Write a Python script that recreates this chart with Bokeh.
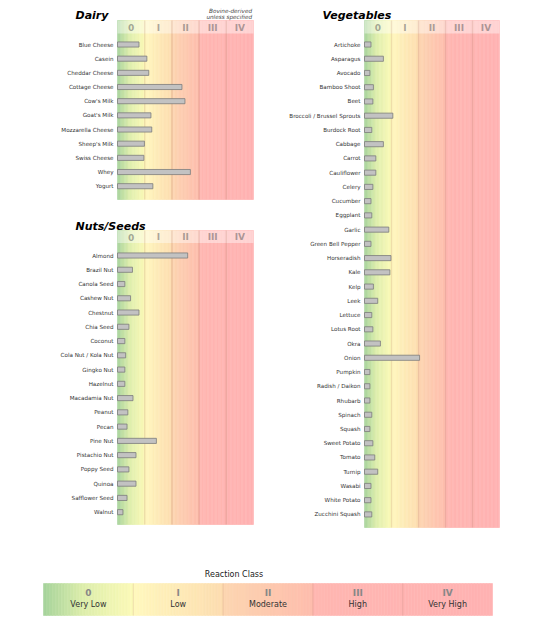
from bokeh.plotting import figure
from bokeh.models import Range1d, ColumnDataSource
from bokeh.layouts import column, row
from bokeh.embed import file_html
from bokeh.resources import INLINE
from bokeh.core.properties import value

# ---------------- data ----------------
class_numerals = ["0", "I", "II", "III", "IV"]
class_names = ["Very Low", "Low", "Moderate", "High", "Very High"]

dairy_items = ["Blue Cheese", "Casein", "Cheddar Cheese", "Cottage Cheese", "Cow's Milk",
               "Goat's Milk", "Mozzarella Cheese", "Sheep's Milk", "Swiss Cheese", "Whey", "Yogurt"]
dairy_values = [0.79, 1.08, 1.15, 2.37, 2.48, 1.23, 1.26, 0.99, 0.97, 2.68, 1.30]

nuts_items = ["Almond", "Brazil Nut", "Canola Seed", "Cashew Nut", "Chestnut", "Chia Seed",
              "Coconut", "Cola Nut / Kola Nut", "Gingko Nut", "Hazelnut", "Macadamia Nut",
              "Peanut", "Pecan", "Pine Nut", "Pistachio Nut", "Poppy Seed", "Quinoa",
              "Safflower Seed", "Walnut"]
nuts_values = [2.58, 0.55, 0.27, 0.48, 0.79, 0.42, 0.27, 0.30, 0.27, 0.27, 0.57,
               0.38, 0.35, 1.43, 0.68, 0.42, 0.68, 0.35, 0.20]

veg_items = ["Artichoke", "Asparagus", "Avocado", "Bamboo Shoot", "Beet",
             "Broccoli / Brussel Sprouts", "Burdock Root", "Cabbage", "Carrot", "Cauliflower",
             "Celery", "Cucumber", "Eggplant", "Garlic", "Green Bell Pepper", "Horseradish",
             "Kale", "Kelp", "Leek", "Lettuce", "Lotus Root", "Okra", "Onion", "Pumpkin",
             "Radish / Daikon", "Rhubarb", "Spinach", "Squash", "Sweet Potato", "Tomato",
             "Turnip", "Wasabi", "White Potato", "Zucchini Squash"]
veg_values = [0.24, 0.70, 0.20, 0.33, 0.31, 1.05, 0.27, 0.70, 0.42, 0.42,
              0.31, 0.24, 0.27, 0.90, 0.24, 0.98, 0.94, 0.33, 0.49, 0.27,
              0.31, 0.59, 2.04, 0.20, 0.20, 0.20, 0.27, 0.20, 0.31, 0.38,
              0.49, 0.24, 0.24, 0.27]

FONT = value("DejaVu Sans")

# gradient stops per class (position within class, rgb)
grad_stops = {
    0: [(0.0, (166, 211, 156)), (0.45, (222, 238, 172)), (1.0, (252, 250, 184))],
    1: [(0.0, (255, 248, 190)), (1.0, (253, 221, 176))],
    2: [(0.0, (253, 214, 177)), (1.0, (254, 189, 173))],
    3: [(0.0, (255, 183, 177)), (1.0, (255, 180, 178))],
    4: [(0.0, (255, 180, 178)), (1.0, (255, 178, 178))],
}


def interp(c, t):
    stops = grad_stops[c]
    for (t0, c0), (t1, c1) in zip(stops[:-1], stops[1:]):
        if t0 <= t <= t1:
            f = (t - t0) / (t1 - t0)
            rgb = [round(a + (b - a) * f) for a, b in zip(c0, c1)]
            return "#%02x%02x%02x" % tuple(rgb)
    return "#%02x%02x%02x" % stops[-1][1]


def gradient_source(n_strips=20):
    left, right, colors = [], [], []
    for c in range(5):
        for k in range(n_strips):
            left.append(c + k / n_strips)
            right.append(c + (k + 1) / n_strips)
            colors.append(interp(c, (k + 0.5) / n_strips))
    return ColumnDataSource(dict(left=left, right=right, color=colors))


def base_figure(W, H, xr, yr):
    p = figure(width=W, height=H, x_range=Range1d(*xr), y_range=Range1d(*yr),
               output_backend="svg", toolbar_location=None, tools="")
    p.min_border = 0
    p.min_border_left = 0
    p.min_border_right = 0
    p.min_border_top = 0
    p.min_border_bottom = 0
    p.outline_line_color = None
    p.grid.visible = False
    p.axis.visible = False
    p.background_fill_color = "white"
    p.border_fill_color = "white"
    return p


def make_panel(items, vals, box, px0, px1, row0, sp, head_top, head_bot, plot_bot,
               title, title_base, note=None):
    """box = (X0, Y0, W, H) of the figure on the page, all geometry in page px."""
    X0, Y0, W, H = box
    n = len(items)
    cw = (px1 - px0) / 5.0
    fx = lambda X: (X - px0) / cw
    fy = lambda Y: (Y - row0) / sp
    p = base_figure(W, H, (fx(X0), fx(X0 + W)), (fy(Y0 + H), fy(Y0)))

    y_top, y_bot = fy(head_top), fy(plot_bot)
    src = gradient_source()
    p.quad(left="left", right="right", bottom=y_bot, top=y_top, fill_color="color",
           line_color="color", line_width=0.6, source=src)
    # lighter header band
    p.quad(left=0, right=5, bottom=fy(head_bot), top=y_top, fill_color="white",
           fill_alpha=0.42, line_color=None)
    # class separators
    p.segment(x0=[1, 2, 3, 4], y0=y_bot, x1=[1, 2, 3, 4], y1=y_top,
              line_color="#9a5a3a", line_alpha=0.16, line_width=1.5)
    # header numerals
    p.text(x=[i + 0.5 for i in range(5)], y=fy((head_top + head_bot) / 2 + 0.5),
           text=class_numerals, text_font=FONT, text_font_size="9px",
           text_font_style="bold", text_color="#555555", text_alpha=0.5,
           text_align="center", text_baseline="middle")
    # bars
    p.hbar(y=list(range(n)), left=0, right=vals, height=0.36,
           fill_color="#c2c2c2", line_color="#7c7c7c", line_width=0.8)
    # category labels
    p.text(x=fx(px0 - 4), y=list(range(n)), text=items, text_font=FONT,
           text_font_size="5.6px", text_color="#333333", text_align="right",
           text_baseline="middle")
    # title
    p.text(x=[fx(px0 - 42)], y=[fy(title_base)], text=[title], text_font=FONT,
           text_font_size="11px", text_font_style="bold italic", text_color="#000000",
           text_align="left", text_baseline="alphabetic")
    if note:
        p.text(x=[fx(px1 - 1.5)] * 2, y=[fy(head_top - 9.5), fy(head_top - 3.2)],
               text=note, text_font=FONT, text_font_size="5.7px",
               text_font_style="italic", text_color="#444444",
               text_align="right", text_baseline="alphabetic")
    return p


dairy = make_panel(dairy_items, dairy_values, (0, 0, 262, 208), 117, 253, 44, 14.17,
                   20, 33, 199, "Dairy", 14.5, note=["Bovine-derived", "unless specified"])
nuts = make_panel(nuts_items, nuts_values, (0, 208, 262, 330), 117, 253, 255, 14.26,
                  230, 242.5, 524, "Nuts/Seeds", 225.5)
veg = make_panel(veg_items, veg_values, (262, 0, 274, 538), 364, 499, 44, 14.24,
                 20, 33, 527, "Vegetables", 14.7)

# ---------------- legend ----------------
LX0, LY0, LW, LH = 0, 538, 536, 80
bx0, bx1, by0, by1 = 43, 492, 583, 615
lcw = (bx1 - bx0) / 5.0
lfx = lambda X: (X - bx0) / lcw
lfy = lambda Y: (by1 - Y) / (by1 - by0)
leg = base_figure(LW, LH, (lfx(LX0), lfx(LX0 + LW)), (lfy(LY0 + LH), lfy(LY0)))

lsrc = gradient_source(30)
leg.quad(left="left", right="right", bottom=0, top=1, fill_color="color",
         line_color="color", line_width=0.6, source=lsrc)
leg.segment(x0=[1, 2, 3, 4], y0=0, x1=[1, 2, 3, 4], y1=1,
            line_color="#9a5a3a", line_alpha=0.14, line_width=1.2)
leg.text(x=[i + 0.5 for i in range(5)], y=lfy(592), text=class_numerals,
         text_font=FONT, text_font_size="9px", text_font_style="bold",
         text_color="#888888", text_align="center", text_baseline="middle")
leg.text(x=[i + 0.5 for i in range(5)], y=lfy(604), text=class_names,
         text_font=FONT, text_font_size="8px", text_color="#333333",
         text_align="center", text_baseline="middle")
leg.text(x=[lfx(233.5)], y=[lfy(574)], text=["Reaction Class"], text_font=FONT,
         text_font_size="8px", text_color="#222222", text_align="center",
         text_baseline="middle")

layout = column(row(column(dairy, nuts), veg), leg)

with open("out.html", "w") as f:
    f.write(file_html(layout, INLINE))
